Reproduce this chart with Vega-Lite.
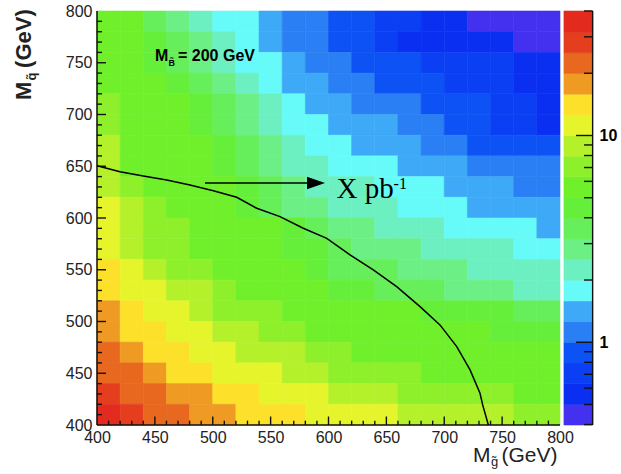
{
"$schema": "https://vega.github.io/schema/vega-lite/v6.json",
"autosize": {"type": "none"},
"width": 463,
"height": 414,
"padding": {"left": 97, "top": 11, "right": 61, "bottom": 49},
"background": "white",
"config": {"view": {"stroke": null}, "font": "Liberation Sans", "axis": {"labelFont": "Liberation Sans", "grid": false}},
"layer": [
{
"layer": [
{
"data": {"values": [
{"mg":410,"mq":790,"xs":5.6},{"mg":430,"mq":790,"xs":5.6},{"mg":450,"mq":790,"xs":3.5},{"mg":470,"mq":790,"xs":2.8},{"mg":490,"mq":790,"xs":2.2},{"mg":510,"mq":790,"xs":1.8},{"mg":530,"mq":790,"xs":1.8},{"mg":550,"mq":790,"xs":1.4},{"mg":570,"mq":790,"xs":1.1},{"mg":590,"mq":790,"xs":1.1},{"mg":610,"mq":790,"xs":0.89},{"mg":630,"mq":790,"xs":0.89},{"mg":650,"mq":790,"xs":0.71},{"mg":670,"mq":790,"xs":0.71},{"mg":690,"mq":790,"xs":0.56},{"mg":710,"mq":790,"xs":0.56},{"mg":730,"mq":790,"xs":0.45},{"mg":750,"mq":790,"xs":0.45},{"mg":770,"mq":790,"xs":0.45},{"mg":790,"mq":790,"xs":0.45},
{"mg":410,"mq":770,"xs":5.6},{"mg":430,"mq":770,"xs":5.6},{"mg":450,"mq":770,"xs":4.5},{"mg":470,"mq":770,"xs":3.5},{"mg":490,"mq":770,"xs":2.8},{"mg":510,"mq":770,"xs":2.2},{"mg":530,"mq":770,"xs":1.8},{"mg":550,"mq":770,"xs":1.4},{"mg":570,"mq":770,"xs":1.1},{"mg":590,"mq":770,"xs":1.1},{"mg":610,"mq":770,"xs":0.89},{"mg":630,"mq":770,"xs":0.89},{"mg":650,"mq":770,"xs":0.71},{"mg":670,"mq":770,"xs":0.56},{"mg":690,"mq":770,"xs":0.56},{"mg":710,"mq":770,"xs":0.56},{"mg":730,"mq":770,"xs":0.56},{"mg":750,"mq":770,"xs":0.56},{"mg":770,"mq":770,"xs":0.45},{"mg":790,"mq":770,"xs":0.45},
{"mg":410,"mq":750,"xs":5.6},{"mg":430,"mq":750,"xs":5.6},{"mg":450,"mq":750,"xs":4.5},{"mg":470,"mq":750,"xs":3.5},{"mg":490,"mq":750,"xs":2.8},{"mg":510,"mq":750,"xs":2.2},{"mg":530,"mq":750,"xs":1.8},{"mg":550,"mq":750,"xs":1.8},{"mg":570,"mq":750,"xs":1.4},{"mg":590,"mq":750,"xs":1.1},{"mg":610,"mq":750,"xs":1.1},{"mg":630,"mq":750,"xs":0.89},{"mg":650,"mq":750,"xs":0.89},{"mg":670,"mq":750,"xs":0.89},{"mg":690,"mq":750,"xs":0.71},{"mg":710,"mq":750,"xs":0.71},{"mg":730,"mq":750,"xs":0.71},{"mg":750,"mq":750,"xs":0.71},{"mg":770,"mq":750,"xs":0.56},{"mg":790,"mq":750,"xs":0.56},
{"mg":410,"mq":730,"xs":5.6},{"mg":430,"mq":730,"xs":5.6},{"mg":450,"mq":730,"xs":5.6},{"mg":470,"mq":730,"xs":4.5},{"mg":490,"mq":730,"xs":3.5},{"mg":510,"mq":730,"xs":2.8},{"mg":530,"mq":730,"xs":2.2},{"mg":550,"mq":730,"xs":1.8},{"mg":570,"mq":730,"xs":1.4},{"mg":590,"mq":730,"xs":1.4},{"mg":610,"mq":730,"xs":1.1},{"mg":630,"mq":730,"xs":1.1},{"mg":650,"mq":730,"xs":0.89},{"mg":670,"mq":730,"xs":0.89},{"mg":690,"mq":730,"xs":0.89},{"mg":710,"mq":730,"xs":0.71},{"mg":730,"mq":730,"xs":0.71},{"mg":750,"mq":730,"xs":0.71},{"mg":770,"mq":730,"xs":0.56},{"mg":790,"mq":730,"xs":0.56},
{"mg":410,"mq":710,"xs":7.1},{"mg":430,"mq":710,"xs":5.6},{"mg":450,"mq":710,"xs":5.6},{"mg":470,"mq":710,"xs":5.6},{"mg":490,"mq":710,"xs":4.5},{"mg":510,"mq":710,"xs":3.5},{"mg":530,"mq":710,"xs":2.8},{"mg":550,"mq":710,"xs":2.2},{"mg":570,"mq":710,"xs":1.8},{"mg":590,"mq":710,"xs":1.4},{"mg":610,"mq":710,"xs":1.4},{"mg":630,"mq":710,"xs":1.1},{"mg":650,"mq":710,"xs":1.1},{"mg":670,"mq":710,"xs":1.1},{"mg":690,"mq":710,"xs":0.89},{"mg":710,"mq":710,"xs":0.89},{"mg":730,"mq":710,"xs":0.89},{"mg":750,"mq":710,"xs":0.71},{"mg":770,"mq":710,"xs":0.71},{"mg":790,"mq":710,"xs":0.56},
{"mg":410,"mq":690,"xs":7.1},{"mg":430,"mq":690,"xs":5.6},{"mg":450,"mq":690,"xs":5.6},{"mg":470,"mq":690,"xs":5.6},{"mg":490,"mq":690,"xs":4.5},{"mg":510,"mq":690,"xs":3.5},{"mg":530,"mq":690,"xs":2.8},{"mg":550,"mq":690,"xs":2.2},{"mg":570,"mq":690,"xs":1.8},{"mg":590,"mq":690,"xs":1.8},{"mg":610,"mq":690,"xs":1.4},{"mg":630,"mq":690,"xs":1.4},{"mg":650,"mq":690,"xs":1.4},{"mg":670,"mq":690,"xs":1.1},{"mg":690,"mq":690,"xs":1.1},{"mg":710,"mq":690,"xs":0.89},{"mg":730,"mq":690,"xs":0.89},{"mg":750,"mq":690,"xs":0.71},{"mg":770,"mq":690,"xs":0.71},{"mg":790,"mq":690,"xs":0.56},
{"mg":410,"mq":670,"xs":8.9},{"mg":430,"mq":670,"xs":5.6},{"mg":450,"mq":670,"xs":5.6},{"mg":470,"mq":670,"xs":5.6},{"mg":490,"mq":670,"xs":5.6},{"mg":510,"mq":670,"xs":4.5},{"mg":530,"mq":670,"xs":3.5},{"mg":550,"mq":670,"xs":2.8},{"mg":570,"mq":670,"xs":2.2},{"mg":590,"mq":670,"xs":1.8},{"mg":610,"mq":670,"xs":1.8},{"mg":630,"mq":670,"xs":1.4},{"mg":650,"mq":670,"xs":1.4},{"mg":670,"mq":670,"xs":1.4},{"mg":690,"mq":670,"xs":1.1},{"mg":710,"mq":670,"xs":1.1},{"mg":730,"mq":670,"xs":0.89},{"mg":750,"mq":670,"xs":0.89},{"mg":770,"mq":670,"xs":0.89},{"mg":790,"mq":670,"xs":0.89},
{"mg":410,"mq":650,"xs":8.9},{"mg":430,"mq":650,"xs":5.6},{"mg":450,"mq":650,"xs":5.6},{"mg":470,"mq":650,"xs":5.6},{"mg":490,"mq":650,"xs":5.6},{"mg":510,"mq":650,"xs":4.5},{"mg":530,"mq":650,"xs":3.5},{"mg":550,"mq":650,"xs":2.8},{"mg":570,"mq":650,"xs":2.2},{"mg":590,"mq":650,"xs":2.2},{"mg":610,"mq":650,"xs":1.8},{"mg":630,"mq":650,"xs":1.8},{"mg":650,"mq":650,"xs":1.8},{"mg":670,"mq":650,"xs":1.4},{"mg":690,"mq":650,"xs":1.4},{"mg":710,"mq":650,"xs":1.4},{"mg":730,"mq":650,"xs":1.1},{"mg":750,"mq":650,"xs":1.1},{"mg":770,"mq":650,"xs":1.1},{"mg":790,"mq":650,"xs":1.1},
{"mg":410,"mq":630,"xs":8.9},{"mg":430,"mq":630,"xs":7.1},{"mg":450,"mq":630,"xs":5.6},{"mg":470,"mq":630,"xs":5.6},{"mg":490,"mq":630,"xs":5.6},{"mg":510,"mq":630,"xs":5.6},{"mg":530,"mq":630,"xs":4.5},{"mg":550,"mq":630,"xs":3.5},{"mg":570,"mq":630,"xs":2.8},{"mg":590,"mq":630,"xs":2.2},{"mg":610,"mq":630,"xs":2.2},{"mg":630,"mq":630,"xs":2.2},{"mg":650,"mq":630,"xs":1.8},{"mg":670,"mq":630,"xs":1.8},{"mg":690,"mq":630,"xs":1.8},{"mg":710,"mq":630,"xs":1.4},{"mg":730,"mq":630,"xs":1.4},{"mg":750,"mq":630,"xs":1.4},{"mg":770,"mq":630,"xs":1.1},{"mg":790,"mq":630,"xs":1.1},
{"mg":410,"mq":610,"xs":11},{"mg":430,"mq":610,"xs":8.9},{"mg":450,"mq":610,"xs":7.1},{"mg":470,"mq":610,"xs":5.6},{"mg":490,"mq":610,"xs":5.6},{"mg":510,"mq":610,"xs":5.6},{"mg":530,"mq":610,"xs":4.5},{"mg":550,"mq":610,"xs":3.5},{"mg":570,"mq":610,"xs":2.8},{"mg":590,"mq":610,"xs":2.8},{"mg":610,"mq":610,"xs":2.2},{"mg":630,"mq":610,"xs":2.2},{"mg":650,"mq":610,"xs":2.2},{"mg":670,"mq":610,"xs":1.8},{"mg":690,"mq":610,"xs":1.8},{"mg":710,"mq":610,"xs":1.8},{"mg":730,"mq":610,"xs":1.4},{"mg":750,"mq":610,"xs":1.4},{"mg":770,"mq":610,"xs":1.4},{"mg":790,"mq":610,"xs":1.4},
{"mg":410,"mq":590,"xs":11},{"mg":430,"mq":590,"xs":8.9},{"mg":450,"mq":590,"xs":7.1},{"mg":470,"mq":590,"xs":7.1},{"mg":490,"mq":590,"xs":5.6},{"mg":510,"mq":590,"xs":5.6},{"mg":530,"mq":590,"xs":5.6},{"mg":550,"mq":590,"xs":5.6},{"mg":570,"mq":590,"xs":4.5},{"mg":590,"mq":590,"xs":3.5},{"mg":610,"mq":590,"xs":2.8},{"mg":630,"mq":590,"xs":2.8},{"mg":650,"mq":590,"xs":2.2},{"mg":670,"mq":590,"xs":2.2},{"mg":690,"mq":590,"xs":2.2},{"mg":710,"mq":590,"xs":1.8},{"mg":730,"mq":590,"xs":1.8},{"mg":750,"mq":590,"xs":1.8},{"mg":770,"mq":590,"xs":1.8},{"mg":790,"mq":590,"xs":1.4},
{"mg":410,"mq":570,"xs":11},{"mg":430,"mq":570,"xs":8.9},{"mg":450,"mq":570,"xs":7.1},{"mg":470,"mq":570,"xs":7.1},{"mg":490,"mq":570,"xs":5.6},{"mg":510,"mq":570,"xs":5.6},{"mg":530,"mq":570,"xs":5.6},{"mg":550,"mq":570,"xs":5.6},{"mg":570,"mq":570,"xs":4.5},{"mg":590,"mq":570,"xs":4.5},{"mg":610,"mq":570,"xs":3.5},{"mg":630,"mq":570,"xs":2.8},{"mg":650,"mq":570,"xs":2.8},{"mg":670,"mq":570,"xs":2.8},{"mg":690,"mq":570,"xs":2.2},{"mg":710,"mq":570,"xs":2.2},{"mg":730,"mq":570,"xs":2.2},{"mg":750,"mq":570,"xs":2.2},{"mg":770,"mq":570,"xs":1.8},{"mg":790,"mq":570,"xs":1.8},
{"mg":410,"mq":550,"xs":14},{"mg":430,"mq":550,"xs":11},{"mg":450,"mq":550,"xs":8.9},{"mg":470,"mq":550,"xs":7.1},{"mg":490,"mq":550,"xs":7.1},{"mg":510,"mq":550,"xs":5.6},{"mg":530,"mq":550,"xs":5.6},{"mg":550,"mq":550,"xs":5.6},{"mg":570,"mq":550,"xs":5.6},{"mg":590,"mq":550,"xs":4.5},{"mg":610,"mq":550,"xs":3.5},{"mg":630,"mq":550,"xs":3.5},{"mg":650,"mq":550,"xs":3.5},{"mg":670,"mq":550,"xs":2.8},{"mg":690,"mq":550,"xs":2.8},{"mg":710,"mq":550,"xs":2.8},{"mg":730,"mq":550,"xs":2.2},{"mg":750,"mq":550,"xs":2.2},{"mg":770,"mq":550,"xs":2.2},{"mg":790,"mq":550,"xs":2.2},
{"mg":410,"mq":530,"xs":14},{"mg":430,"mq":530,"xs":11},{"mg":450,"mq":530,"xs":11},{"mg":470,"mq":530,"xs":8.9},{"mg":490,"mq":530,"xs":8.9},{"mg":510,"mq":530,"xs":7.1},{"mg":530,"mq":530,"xs":5.6},{"mg":550,"mq":530,"xs":5.6},{"mg":570,"mq":530,"xs":5.6},{"mg":590,"mq":530,"xs":5.6},{"mg":610,"mq":530,"xs":4.5},{"mg":630,"mq":530,"xs":4.5},{"mg":650,"mq":530,"xs":3.5},{"mg":670,"mq":530,"xs":3.5},{"mg":690,"mq":530,"xs":3.5},{"mg":710,"mq":530,"xs":2.8},{"mg":730,"mq":530,"xs":2.8},{"mg":750,"mq":530,"xs":2.8},{"mg":770,"mq":530,"xs":2.2},{"mg":790,"mq":530,"xs":2.2},
{"mg":410,"mq":510,"xs":18},{"mg":430,"mq":510,"xs":14},{"mg":450,"mq":510,"xs":11},{"mg":470,"mq":510,"xs":11},{"mg":490,"mq":510,"xs":8.9},{"mg":510,"mq":510,"xs":7.1},{"mg":530,"mq":510,"xs":7.1},{"mg":550,"mq":510,"xs":7.1},{"mg":570,"mq":510,"xs":5.6},{"mg":590,"mq":510,"xs":5.6},{"mg":610,"mq":510,"xs":5.6},{"mg":630,"mq":510,"xs":5.6},{"mg":650,"mq":510,"xs":5.6},{"mg":670,"mq":510,"xs":5.6},{"mg":690,"mq":510,"xs":4.5},{"mg":710,"mq":510,"xs":4.5},{"mg":730,"mq":510,"xs":4.5},{"mg":750,"mq":510,"xs":4.5},{"mg":770,"mq":510,"xs":3.5},{"mg":790,"mq":510,"xs":3.5},
{"mg":410,"mq":490,"xs":18},{"mg":430,"mq":490,"xs":14},{"mg":450,"mq":490,"xs":14},{"mg":470,"mq":490,"xs":11},{"mg":490,"mq":490,"xs":11},{"mg":510,"mq":490,"xs":8.9},{"mg":530,"mq":490,"xs":8.9},{"mg":550,"mq":490,"xs":7.1},{"mg":570,"mq":490,"xs":7.1},{"mg":590,"mq":490,"xs":5.6},{"mg":610,"mq":490,"xs":5.6},{"mg":630,"mq":490,"xs":5.6},{"mg":650,"mq":490,"xs":5.6},{"mg":670,"mq":490,"xs":5.6},{"mg":690,"mq":490,"xs":5.6},{"mg":710,"mq":490,"xs":5.6},{"mg":730,"mq":490,"xs":5.6},{"mg":750,"mq":490,"xs":4.5},{"mg":770,"mq":490,"xs":4.5},{"mg":790,"mq":490,"xs":4.5},
{"mg":410,"mq":470,"xs":22},{"mg":430,"mq":470,"xs":18},{"mg":450,"mq":470,"xs":14},{"mg":470,"mq":470,"xs":14},{"mg":490,"mq":470,"xs":11},{"mg":510,"mq":470,"xs":11},{"mg":530,"mq":470,"xs":8.9},{"mg":550,"mq":470,"xs":8.9},{"mg":570,"mq":470,"xs":8.9},{"mg":590,"mq":470,"xs":7.1},{"mg":610,"mq":470,"xs":7.1},{"mg":630,"mq":470,"xs":5.6},{"mg":650,"mq":470,"xs":5.6},{"mg":670,"mq":470,"xs":5.6},{"mg":690,"mq":470,"xs":5.6},{"mg":710,"mq":470,"xs":5.6},{"mg":730,"mq":470,"xs":5.6},{"mg":750,"mq":470,"xs":5.6},{"mg":770,"mq":470,"xs":5.6},{"mg":790,"mq":470,"xs":5.6},
{"mg":410,"mq":450,"xs":22},{"mg":430,"mq":450,"xs":22},{"mg":450,"mq":450,"xs":18},{"mg":470,"mq":450,"xs":14},{"mg":490,"mq":450,"xs":14},{"mg":510,"mq":450,"xs":11},{"mg":530,"mq":450,"xs":11},{"mg":550,"mq":450,"xs":11},{"mg":570,"mq":450,"xs":8.9},{"mg":590,"mq":450,"xs":8.9},{"mg":610,"mq":450,"xs":7.1},{"mg":630,"mq":450,"xs":7.1},{"mg":650,"mq":450,"xs":7.1},{"mg":670,"mq":450,"xs":7.1},{"mg":690,"mq":450,"xs":5.6},{"mg":710,"mq":450,"xs":5.6},{"mg":730,"mq":450,"xs":5.6},{"mg":750,"mq":450,"xs":5.6},{"mg":770,"mq":450,"xs":5.6},{"mg":790,"mq":450,"xs":5.6},
{"mg":410,"mq":430,"xs":28},{"mg":430,"mq":430,"xs":22},{"mg":450,"mq":430,"xs":22},{"mg":470,"mq":430,"xs":18},{"mg":490,"mq":430,"xs":18},{"mg":510,"mq":430,"xs":14},{"mg":530,"mq":430,"xs":14},{"mg":550,"mq":430,"xs":11},{"mg":570,"mq":430,"xs":11},{"mg":590,"mq":430,"xs":11},{"mg":610,"mq":430,"xs":8.9},{"mg":630,"mq":430,"xs":8.9},{"mg":650,"mq":430,"xs":8.9},{"mg":670,"mq":430,"xs":7.1},{"mg":690,"mq":430,"xs":7.1},{"mg":710,"mq":430,"xs":7.1},{"mg":730,"mq":430,"xs":7.1},{"mg":750,"mq":430,"xs":7.1},{"mg":770,"mq":430,"xs":5.6},{"mg":790,"mq":430,"xs":5.6},
{"mg":410,"mq":410,"xs":35},{"mg":430,"mq":410,"xs":28},{"mg":450,"mq":410,"xs":22},{"mg":470,"mq":410,"xs":22},{"mg":490,"mq":410,"xs":18},{"mg":510,"mq":410,"xs":18},{"mg":530,"mq":410,"xs":14},{"mg":550,"mq":410,"xs":14},{"mg":570,"mq":410,"xs":14},{"mg":590,"mq":410,"xs":11},{"mg":610,"mq":410,"xs":11},{"mg":630,"mq":410,"xs":11},{"mg":650,"mq":410,"xs":11},{"mg":670,"mq":410,"xs":8.9},{"mg":690,"mq":410,"xs":8.9},{"mg":710,"mq":410,"xs":8.9},{"mg":730,"mq":410,"xs":8.9},{"mg":750,"mq":410,"xs":8.9},{"mg":770,"mq":410,"xs":7.1},{"mg":790,"mq":410,"xs":7.1}
]},
"mark": {"type": "rect", "width": 23.15, "height": 20.7, "strokeWidth": 0.6},
"encoding": {
"x": {"field": "mg", "type": "quantitative", "scale": {"domain": [400, 800], "nice": false, "zero": false},
 "axis": {"title": null, "values": [400,450,500,550,600,650,700,750,800], "format": "d",
  "ticks": false, "domain": false, "labelFontSize": 16, "labelColor": "#222", "labelPadding": 4, "labelFlush": false, "labelOverlap": false, "grid": false}},
"y": {"field": "mq", "type": "quantitative", "scale": {"domain": [400, 800], "nice": false, "zero": false},
 "axis": {"title": null, "values": [400,450,500,550,600,650,700,750,800], "format": "d",
  "ticks": false, "domain": false, "labelFontSize": 16, "labelColor": "#222", "labelPadding": 5, "labelFlush": false, "labelOverlap": false, "grid": false}},
"color": {"field": "xs", "type": "quantitative", "legend": null, "scale": {"type": "threshold", "domain": [0.501,0.631,0.794,1,1.259,1.585,1.995,2.512,3.162,3.981,5.012,6.31,7.943,10,12.59,15.85,19.95,25.12,31.62], "range": ["#4331ef","#0b2ff1","#0a3ff4","#0d52f4","#2a7ff4","#3eaaf7","#66fbf8","#6cf0c2","#6cf086","#66ef5a","#66ef3a","#6ff02b","#8ef02b","#b4f12b","#e6f52b","#fde02a","#ef9a22","#e8681f","#e43e1f","#e32a1e"]}},
"stroke": {"field": "xs", "type": "quantitative", "legend": null, "scale": {"type": "threshold", "domain": [0.501,0.631,0.794,1,1.259,1.585,1.995,2.512,3.162,3.981,5.012,6.31,7.943,10,12.59,15.85,19.95,25.12,31.62], "range": ["#4331ef","#0b2ff1","#0a3ff4","#0d52f4","#2a7ff4","#3eaaf7","#66fbf8","#6cf0c2","#6cf086","#66ef5a","#66ef3a","#6ff02b","#8ef02b","#b4f12b","#e6f52b","#fde02a","#ef9a22","#e8681f","#e43e1f","#e32a1e"]}}
}
},
{
"data": {"values": [{"t":410},{"t":420},{"t":430},{"t":440},{"t":460},{"t":470},{"t":480},{"t":490},{"t":510},{"t":520},{"t":530},{"t":540},{"t":560},{"t":570},{"t":580},{"t":590},{"t":610},{"t":620},{"t":630},{"t":640},{"t":660},{"t":670},{"t":680},{"t":690},{"t":710},{"t":720},{"t":730},{"t":740},{"t":760},{"t":770},{"t":780},{"t":790}]},
"mark": {"type": "rule", "color": "#111", "strokeWidth": 1.4},
"encoding": {"x": {"field": "t", "type": "quantitative"}, "y": {"datum": 400, "type": "quantitative"}, "y2": {"datum": 404.2}}
},
{
"data": {"values": [{"t":410},{"t":420},{"t":430},{"t":440},{"t":460},{"t":470},{"t":480},{"t":490},{"t":510},{"t":520},{"t":530},{"t":540},{"t":560},{"t":570},{"t":580},{"t":590},{"t":610},{"t":620},{"t":630},{"t":640},{"t":660},{"t":670},{"t":680},{"t":690},{"t":710},{"t":720},{"t":730},{"t":740},{"t":760},{"t":770},{"t":780},{"t":790}]},
"mark": {"type": "rule", "color": "#111", "strokeWidth": 1.4},
"encoding": {"y": {"field": "t", "type": "quantitative"}, "x": {"datum": 400, "type": "quantitative"}, "x2": {"datum": 404.3}}
},
{
"data": {"values": [{"t":450},{"t":500},{"t":550},{"t":600},{"t":650},{"t":700},{"t":750}]},
"mark": {"type": "rule", "color": "#111", "strokeWidth": 1.4},
"encoding": {"x": {"field": "t", "type": "quantitative"}, "y": {"datum": 400, "type": "quantitative"}, "y2": {"datum": 408.2}}
},
{
"data": {"values": [{"t":450},{"t":500},{"t":550},{"t":600},{"t":650},{"t":700},{"t":750}]},
"mark": {"type": "rule", "color": "#111", "strokeWidth": 1.4},
"encoding": {"y": {"field": "t", "type": "quantitative"}, "x": {"datum": 400, "type": "quantitative"}, "x2": {"datum": 407.8}}
},
{
"data": {"values": [{}]},
"mark": {"type": "rule", "color": "#111", "strokeWidth": 1.5},
"encoding": {"x": {"datum": 400, "type": "quantitative"}, "x2": {"datum": 800}, "y": {"datum": 400, "type": "quantitative"}}
},
{
"data": {"values": [{}]},
"mark": {"type": "rule", "color": "#111", "strokeWidth": 1.5},
"encoding": {"x": {"datum": 400, "type": "quantitative"}, "y": {"datum": 400, "type": "quantitative"}, "y2": {"datum": 800}}
},
{
"data": {"values": [
{"mg":400,"mq":650.5},{"mg":419.9,"mq":644.7},{"mg":440,"mq":640.6},{"mg":460.2,"mq":636.7},{"mg":480.3,"mq":631.9},{"mg":500.5,"mq":626.4},{"mg":520.7,"mq":620},{"mg":538,"mq":609.4},{"mg":558.1,"mq":601.3},{"mg":578.2,"mq":590.1},{"mg":598.5,"mq":580.4},{"mg":618.6,"mq":564.3},{"mg":638.7,"mq":549.8},{"mg":658.9,"mq":533.7},{"mg":679.1,"mq":514.4},{"mg":696.3,"mq":496.7},{"mg":710.8,"mq":475.7},{"mg":722.3,"mq":453.2},{"mg":730.9,"mq":430.7},{"mg":733.2,"mq":419.4},{"mg":738.1,"mq":400}
]},
"mark": {"type": "line", "color": "black", "strokeWidth": 1.5},
"encoding": {"x": {"field": "mg", "type": "quantitative"}, "y": {"field": "mq", "type": "quantitative"}}
},
{
"data": {"values": [{}]},
"mark": {"type": "rule", "color": "black", "strokeWidth": 1.3},
"encoding": {"x": {"datum": 493.3, "type": "quantitative"}, "x2": {"datum": 589}, "y": {"datum": 633.8, "type": "quantitative"}}
},
{
"data": {"values": [{}]},
"mark": {"type": "point", "shape": "M-1,-0.7L1,0L-1,0.7Z", "filled": true, "color": "black", "opacity": 1, "size": 324},
"encoding": {"x": {"datum": 589.2, "type": "quantitative"}, "y": {"datum": 633.8, "type": "quantitative"}}
},
{
"data": {"values": [{}]},
"mark": {"type": "text", "text": "M", "font": "Liberation Sans", "fontWeight": "bold", "fontSize": 16, "align": "left", "baseline": "alphabetic", "color": "black"},
"encoding": {"x": {"datum": 450.1, "type": "quantitative"}, "y": {"datum": 751.7, "type": "quantitative"}}
},
{
"data": {"values": [{}]},
"mark": {"type": "text", "text": "B\u0303", "font": "Liberation Sans", "fontWeight": "bold", "fontSize": 9, "align": "left", "baseline": "alphabetic", "color": "black"},
"encoding": {"x": {"datum": 461.8, "type": "quantitative"}, "y": {"datum": 746.9, "type": "quantitative"}}
},
{
"data": {"values": [{}]},
"mark": {"type": "text", "text": "= 200 GeV", "font": "Liberation Sans", "fontWeight": "bold", "fontSize": 16, "align": "left", "baseline": "alphabetic", "color": "black"},
"encoding": {"x": {"datum": 470.0, "type": "quantitative"}, "y": {"datum": 751.7, "type": "quantitative"}}
},
{
"data": {"values": [{}]},
"mark": {"type": "text", "text": "X pb", "font": "Liberation Serif", "fontSize": 29, "align": "left", "baseline": "alphabetic", "color": "black"},
"encoding": {"x": {"datum": 606.9, "type": "quantitative"}, "y": {"datum": 619.6, "type": "quantitative"}}
},
{
"data": {"values": [{}]},
"mark": {"type": "text", "text": "-1", "font": "Liberation Serif", "fontSize": 16, "align": "left", "baseline": "alphabetic", "color": "black"},
"encoding": {"x": {"datum": 656.2, "type": "quantitative"}, "y": {"datum": 628, "type": "quantitative"}}
},
{
"data": {"values": [{}]},
"mark": {"type": "text", "text": "M", "font": "Liberation Sans", "fontSize": 21, "align": "left", "baseline": "alphabetic", "color": "#222"},
"encoding": {"x": {"datum": 724.8, "type": "quantitative"}, "y": {"datum": 364.3, "type": "quantitative"}}
},
{
"data": {"values": [{}]},
"mark": {"type": "text", "text": "g\u0303", "font": "Liberation Sans", "fontSize": 13, "align": "left", "baseline": "alphabetic", "color": "#222"},
"encoding": {"x": {"datum": 740.4, "type": "quantitative"}, "y": {"datum": 360.4, "type": "quantitative"}}
},
{
"data": {"values": [{}]},
"mark": {"type": "text", "text": "(GeV)", "font": "Liberation Sans", "fontSize": 21, "align": "left", "baseline": "alphabetic", "color": "#222"},
"encoding": {"x": {"datum": 749.5, "type": "quantitative"}, "y": {"datum": 364.3, "type": "quantitative"}}
},
{
"data": {"values": [{}]},
"mark": {"type": "text", "text": "M", "font": "Liberation Sans", "fontWeight": "bold", "fontSize": 22, "angle": 270, "align": "left", "baseline": "alphabetic", "color": "#222"},
"encoding": {"x": {"datum": 343.0, "type": "quantitative"}, "y": {"datum": 714.0, "type": "quantitative"}}
},
{
"data": {"values": [{}]},
"mark": {"type": "text", "text": "q\u0303", "font": "Liberation Sans", "fontWeight": "bold", "fontSize": 13, "angle": 270, "align": "left", "baseline": "alphabetic", "color": "#222"},
"encoding": {"x": {"datum": 347.3, "type": "quantitative"}, "y": {"datum": 732.8, "type": "quantitative"}}
},
{
"data": {"values": [{}]},
"mark": {"type": "text", "text": "(GeV)", "font": "Liberation Sans", "fontWeight": "bold", "fontSize": 22, "angle": 270, "align": "left", "baseline": "alphabetic", "color": "#222"},
"encoding": {"x": {"datum": 343.0, "type": "quantitative"}, "y": {"datum": 745.0, "type": "quantitative"}}
}
]
},
{
"layer": [
{
"data": {"values": [
{"lo":0.398,"hi":0.501,"xs":0.45},{"lo":0.501,"hi":0.631,"xs":0.56},{"lo":0.631,"hi":0.794,"xs":0.71},{"lo":0.794,"hi":1,"xs":0.89},{"lo":1,"hi":1.259,"xs":1.1},{"lo":1.259,"hi":1.585,"xs":1.4},{"lo":1.585,"hi":1.995,"xs":1.8},{"lo":1.995,"hi":2.512,"xs":2.2},{"lo":2.512,"hi":3.162,"xs":2.8},{"lo":3.162,"hi":3.981,"xs":3.5},{"lo":3.981,"hi":5.012,"xs":4.5},{"lo":5.012,"hi":6.31,"xs":5.6},{"lo":6.31,"hi":7.943,"xs":7.1},{"lo":7.943,"hi":10,"xs":8.9},{"lo":10,"hi":12.59,"xs":11},{"lo":12.59,"hi":15.85,"xs":14},{"lo":15.85,"hi":19.95,"xs":18},{"lo":19.95,"hi":25.12,"xs":22},{"lo":25.12,"hi":31.62,"xs":28},{"lo":31.62,"hi":40,"xs":35}
]},
"mark": {"type": "rect", "strokeWidth": 0.6},
"encoding": {
"x": {"datum": 803.4, "type": "quantitative", "scale": {"domain": [400, 800], "nice": false, "zero": false}},
"x2": {"datum": 828.2},
"y": {"field": "lo", "type": "quantitative", "scale": {"type": "log", "domain": [0.398, 40], "nice": false},
 "axis": {"orient": "right", "offset": 33, "title": null, "values": [1, 10], "format": "~g",
  "ticks": false, "domain": false,
  "labelFontSize": 16, "labelFontWeight": "bold", "labelColor": "black", "labelPadding": 6, "labelFlush": false, "labelOverlap": false, "grid": false}},
"y2": {"field": "hi"},
"color": {"field": "xs", "type": "quantitative", "legend": null, "scale": {"type": "threshold", "domain": [0.501,0.631,0.794,1,1.259,1.585,1.995,2.512,3.162,3.981,5.012,6.31,7.943,10,12.59,15.85,19.95,25.12,31.62], "range": ["#4331ef","#0b2ff1","#0a3ff4","#0d52f4","#2a7ff4","#3eaaf7","#66fbf8","#6cf0c2","#6cf086","#66ef5a","#66ef3a","#6ff02b","#8ef02b","#b4f12b","#e6f52b","#fde02a","#ef9a22","#e8681f","#e43e1f","#e32a1e"]}},
"stroke": {"field": "xs", "type": "quantitative", "legend": null, "scale": {"type": "threshold", "domain": [0.501,0.631,0.794,1,1.259,1.585,1.995,2.512,3.162,3.981,5.012,6.31,7.943,10,12.59,15.85,19.95,25.12,31.62], "range": ["#4331ef","#0b2ff1","#0a3ff4","#0d52f4","#2a7ff4","#3eaaf7","#66fbf8","#6cf0c2","#6cf086","#66ef5a","#66ef3a","#6ff02b","#8ef02b","#b4f12b","#e6f52b","#fde02a","#ef9a22","#e8681f","#e43e1f","#e32a1e"]}}
}
},
{
"data": {"values": [{"tick":0.4},{"tick":0.5},{"tick":0.6},{"tick":0.7},{"tick":0.8},{"tick":0.9},{"tick":2},{"tick":3},{"tick":4},{"tick":5},{"tick":6},{"tick":7},{"tick":8},{"tick":9},{"tick":20},{"tick":30},{"tick":40}]},
"mark": {"type": "rule", "color": "#111", "strokeWidth": 1.4},
"encoding": {"x": {"datum": 820.7, "type": "quantitative"}, "x2": {"datum": 828.2}, "y": {"field": "tick", "type": "quantitative"}}
},
{
"data": {"values": [{"tick": 1}, {"tick": 10}]},
"mark": {"type": "rule", "color": "#111", "strokeWidth": 1.4},
"encoding": {"x": {"datum": 813.8, "type": "quantitative"}, "x2": {"datum": 828.2}, "y": {"field": "tick", "type": "quantitative"}}
},
{
"data": {"values": [{}]},
"mark": {"type": "rule", "color": "#111", "strokeWidth": 1.4},
"encoding": {"x": {"datum": 828.2, "type": "quantitative"}, "y": {"datum": 0.398, "type": "quantitative"}, "y2": {"datum": 40}}
}
]
}
],
"resolve": {"scale": {"y": "independent"}, "axis": {"y": "independent"}}
}
